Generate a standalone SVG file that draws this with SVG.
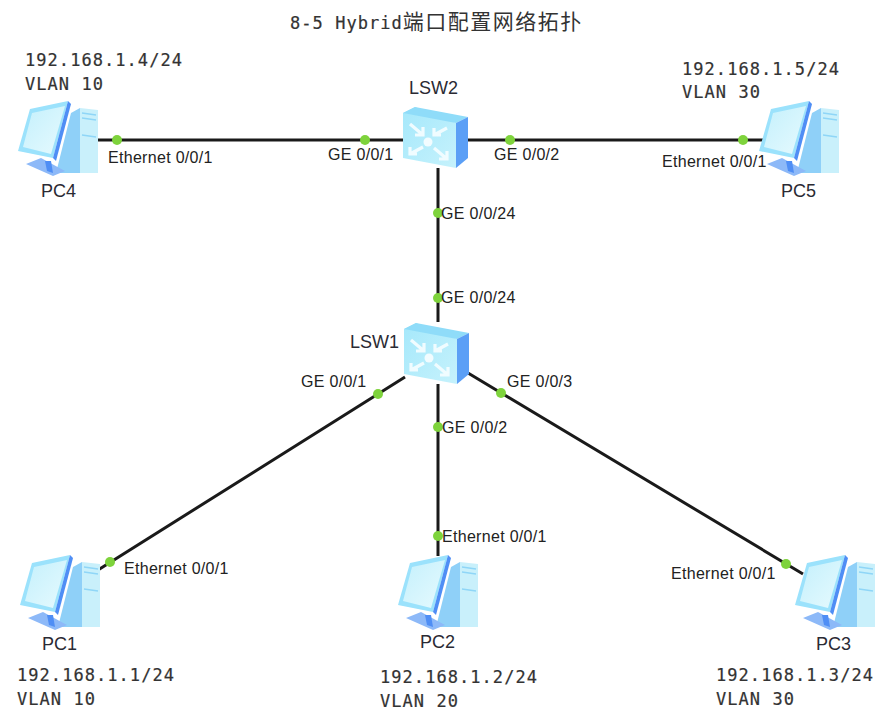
<svg xmlns="http://www.w3.org/2000/svg" width="882" height="718" viewBox="0 0 882 718">
<style>
.t{font-family:"Liberation Sans",Arial,sans-serif;font-size:16px;letter-spacing:.3px;fill:#222}
.n{font-family:"Liberation Sans",Arial,sans-serif;font-size:18px;fill:#2a2a33}
.m{font-family:"DejaVu Sans Mono","Liberation Mono",monospace;font-size:17px;letter-spacing:1.05px;fill:#333;stroke:#333;stroke-width:.2px}
.c{font-family:"Noto Sans CJK SC","Noto Sans CJK JP",sans-serif;font-size:21px;letter-spacing:1.5px;fill:#333}
.l{stroke:#1a1a1a;stroke-width:3;fill:none}
.d{fill:#7ed33c}
</style>
<defs>
<linearGradient id="scr" x1="0" y1="0" x2="1" y2="1"><stop offset="0" stop-color="#c4f0fc"/><stop offset="1" stop-color="#e6fafe"/></linearGradient>
<linearGradient id="swf" x1="0" y1="0" x2="1" y2="1"><stop offset="0" stop-color="#a5e8fb"/><stop offset="1" stop-color="#c6f2fc"/></linearGradient>
<g id="pc">
<path d="M62 7L80 9V72L62 72Z" fill="#c9f0fb"/>
<path d="M53 12L62 7V72L38 72Z" fill="#8fd0f8"/>
<path d="M64 12L78 14M64 17L78 19M64 34L78 36" stroke="#8fd6f7" stroke-width="1.5"/>
<path d="M8 63L23 57L47 70L35 75Z" fill="#8db9f8"/>
<path d="M27 60L33 60L35 72L29 70Z" fill="#4f8ef5"/>
<path d="M12 8L50 0L35 57L0 50Z" fill="#9be2fc"/>
<path d="M50 0L53 3L38 60L35 57Z" fill="#4f8ef5"/>
<path d="M14 12L47 5L33 53L5 46Z" fill="url(#scr)"/>
</g>
<g id="sw">
<path d="M0 9L12 3L53 19V64L0 54Z" fill="url(#swf)"/>
<path d="M0 9L12 3L65 13L53 19Z" fill="#8fdcf9"/>
<path d="M53 19L65 13V54L53 64Z" fill="#5b9ff6"/>
<circle cx="25" cy="38" r="4.5" fill="#f2fcff"/>
<g stroke="#f0fcff" stroke-width="3.2" fill="none">
<path d="M7 20L20 31M20 23V31H12"/>
<path d="M44 24L31 31M31 24V31H38"/>
<path d="M20 43L7 50M7 43V50H14"/>
<path d="M31 44L44 55M44 47V55H36"/>
</g>
</g>
</defs>
<rect width="882" height="718" fill="#fff"/>
<text id="title" x="290" y="29"><tspan class="m">8-5 Hybrid</tspan><tspan class="c">端口配置网络拓扑</tspan></text>

<g id="connectors">
<path class="l" d="M97 140H404M468 140H765M438 168V322M405 377L98 570M438 384V556M468 373L803 574"/>
<g>
<circle class="d" cx="117" cy="140" r="5"/><circle class="d" cx="365" cy="140" r="5"/>
<circle class="d" cx="510" cy="140" r="5"/><circle class="d" cx="743" cy="140" r="5"/>
<circle class="d" cx="438" cy="213" r="5"/><circle class="d" cx="438" cy="298" r="5"/>
<circle class="d" cx="378" cy="394" r="5"/><circle class="d" cx="110" cy="562" r="5"/>
<circle class="d" cx="438" cy="427" r="5"/><circle class="d" cx="438" cy="536" r="5"/>
<circle class="d" cx="501" cy="393" r="5"/><circle class="d" cx="786" cy="564" r="5"/>
</g>
<text class="t" x="108" y="163">Ethernet 0/0/1</text>
<text class="t" x="328" y="160">GE 0/0/1</text>
<text class="t" x="494" y="160">GE 0/0/2</text>
<text class="t" x="662" y="167">Ethernet 0/0/1</text>
<text class="t" x="441" y="219">GE 0/0/24</text>
<text class="t" x="441" y="303">GE 0/0/24</text>
<text class="t" x="301" y="387">GE 0/0/1</text>
<text class="t" x="507" y="387">GE 0/0/3</text>
<text class="t" x="442" y="433">GE 0/0/2</text>
<text class="t" x="442" y="542">Ethernet 0/0/1</text>
<text class="t" x="124" y="574">Ethernet 0/0/1</text>
<text class="t" x="671" y="579">Ethernet 0/0/1</text>
</g>

<g id="PC4"><use href="#pc" x="18" y="101"/><text class="n" x="41" y="197">PC4</text>
<text class="m" x="25" y="66">192.168.1.4/24</text><text class="m" x="25" y="90">VLAN 10</text></g>
<g id="PC5"><use href="#pc" x="759" y="101"/><text class="n" x="781" y="197">PC5</text>
<text class="m" x="682" y="75">192.168.1.5/24</text><text class="m" x="682" y="98">VLAN 30</text></g>
<g id="LSW2"><use href="#sw" x="403" y="104"/><text class="n" x="409" y="94">LSW2</text></g>
<g id="LSW1"><use href="#sw" x="404" y="320"/><text class="n" x="350" y="348">LSW1</text></g>
<g id="PC1"><use href="#pc" x="20" y="555"/><text class="n" x="42" y="650">PC1</text>
<text class="m" x="17" y="681">192.168.1.1/24</text><text class="m" x="17" y="705">VLAN 10</text></g>
<g id="PC2"><use href="#pc" x="398" y="555"/><text class="n" x="420" y="648">PC2</text>
<text class="m" x="380" y="683">192.168.1.2/24</text><text class="m" x="380" y="707">VLAN 20</text></g>
<g id="PC3"><use href="#pc" x="795" y="555"/><text class="n" x="816" y="650">PC3</text>
<text class="m" x="716" y="681">192.168.1.3/24</text><text class="m" x="716" y="705">VLAN 30</text></g>
</svg>
